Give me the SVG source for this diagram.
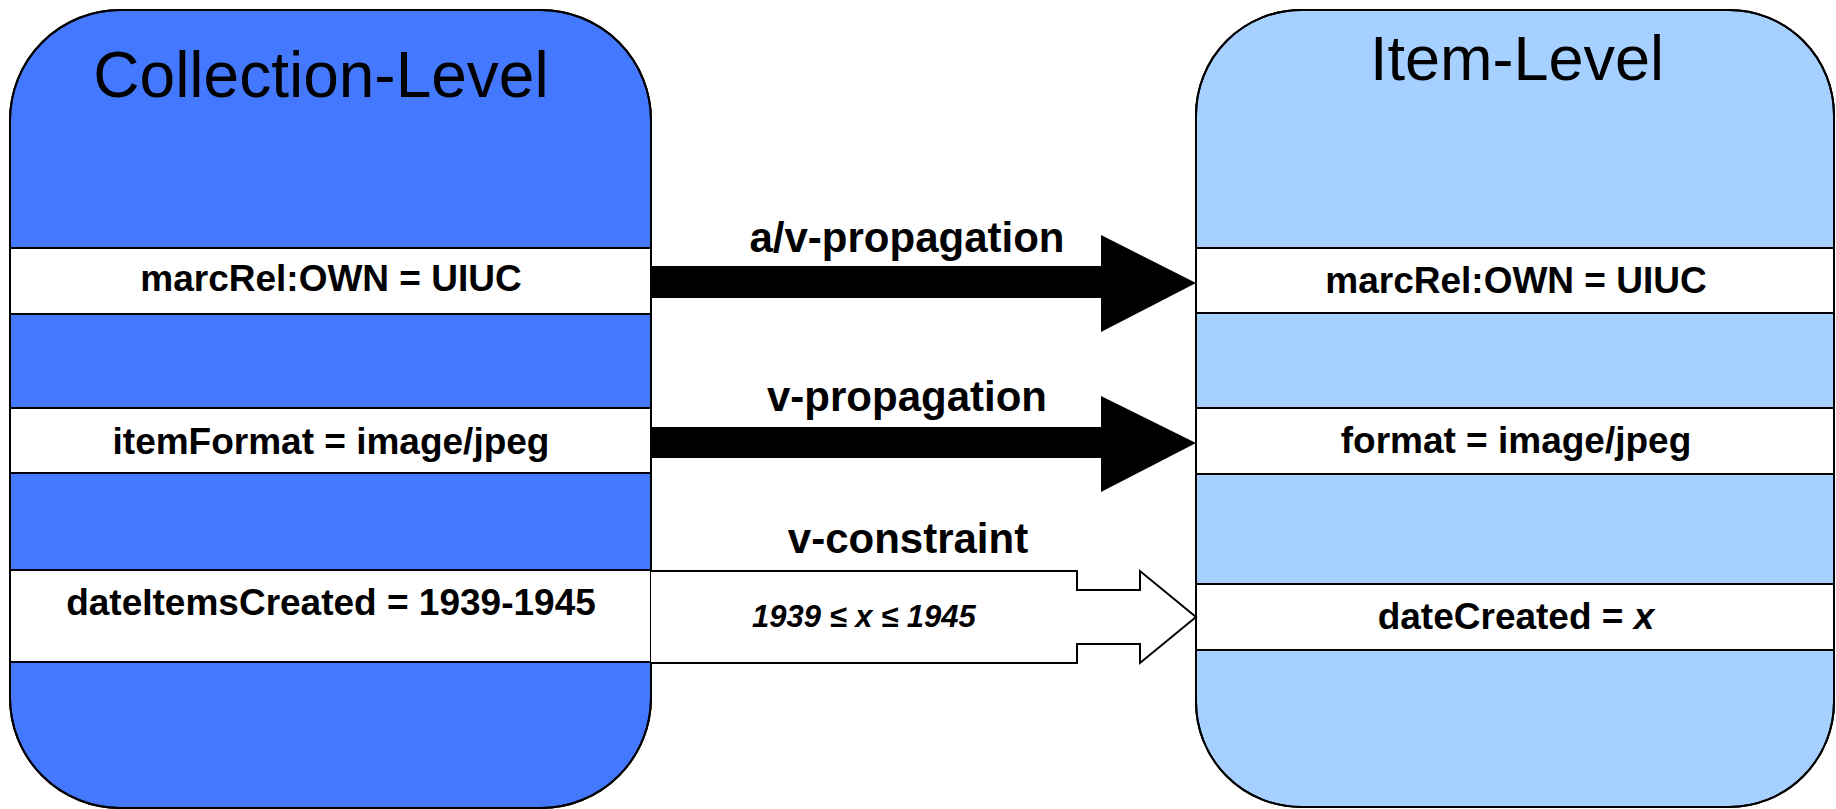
<svg xmlns="http://www.w3.org/2000/svg" width="1836" height="809" viewBox="0 0 1836 809">
<style>
.box{stroke:#000;stroke-width:2}
.left{fill:#4479ff}
.right{fill:#a6d0ff}
.band{fill:#fff;stroke:#000;stroke-width:2}
.outline{fill:none;stroke:#000;stroke-width:2}
.title{font-family:"Liberation Sans",Arial,sans-serif;font-weight:normal;text-anchor:middle;fill:#000}
.attr{font-family:"Liberation Sans",Arial,sans-serif;font-weight:bold;font-size:37px;text-anchor:middle;fill:#000}
.lbl{font-family:"Liberation Sans",Arial,sans-serif;font-weight:bold;font-size:42px;text-anchor:middle;fill:#000}
.cons{font-family:"Liberation Sans",Arial,sans-serif;font-weight:bold;font-style:italic;font-size:31px;fill:#000}
.solid{fill:#000;stroke:none}
.hollow{fill:#fff;stroke:#000;stroke-width:2;stroke-linejoin:miter}
</style>
<rect width="1836" height="809" fill="#fff"/>
<g id="collection-level">
  <path class="box left" d="M10,120 A110,110 0 0 1 120,10 L541,10 A110,110 0 0 1 651,120 L651,698 A110,110 0 0 1 541,808 L120,808 A110,110 0 0 1 10,698 Z"/>
  <rect class="band" x="10" y="248" width="641" height="66"/>
  <rect class="band" x="10" y="408" width="641" height="65"/>
  <rect class="band" x="10" y="570" width="641" height="92"/>
  <path class="outline" d="M10,120 A110,110 0 0 1 120,10 L541,10 A110,110 0 0 1 651,120 L651,698 A110,110 0 0 1 541,808 L120,808 A110,110 0 0 1 10,698 Z"/>
  <text class="title" x="321" y="97" font-size="64">Collection-Level</text>
  <text class="attr" x="331" y="291">marcRel:OWN = UIUC</text>
  <text class="attr" x="331" y="454">itemFormat = image/jpeg</text>
  <text class="attr" x="331" y="615">dateItemsCreated = 1939-1945</text>
</g>
<g id="item-level">
  <path class="box right" d="M1196,115 A105,105 0 0 1 1301,10 L1729,10 A105,105 0 0 1 1834,115 L1834,702 A105,105 0 0 1 1729,807 L1301,807 A105,105 0 0 1 1196,702 Z"/>
  <rect class="band" x="1196" y="248" width="638" height="65"/>
  <rect class="band" x="1196" y="408" width="638" height="66"/>
  <rect class="band" x="1196" y="584" width="638" height="66"/>
  <path class="outline" d="M1196,115 A105,105 0 0 1 1301,10 L1729,10 A105,105 0 0 1 1834,115 L1834,702 A105,105 0 0 1 1729,807 L1301,807 A105,105 0 0 1 1196,702 Z"/>
  <text class="title" x="1517" y="80" font-size="63">Item-Level</text>
  <text class="attr" x="1516" y="293">marcRel:OWN = UIUC</text>
  <text class="attr" x="1516" y="453">format = image/jpeg</text>
  <text class="attr" x="1516" y="629">dateCreated = <tspan font-style="italic">x</tspan></text>
</g>
<g id="connectors">
  <g id="av-propagation">
    <polygon class="solid" points="651,266 1101,266 1101,235 1196,283 1101,332 1101,298 651,298"/>
    <text class="lbl" x="907" y="252">a/v-propagation</text>
  </g>
  <g id="v-propagation">
    <polygon class="solid" points="651,427 1101,427 1101,396 1196,443 1101,492 1101,458 651,458"/>
    <text class="lbl" x="907" y="411">v-propagation</text>
  </g>
  <g id="v-constraint">
    <polyline class="hollow" points="651,571 1077,571 1077,590 1140,590 1140,571 1196,617 1140,663 1140,644 1077,644 1077,663 651,663"/>
    <text class="lbl" x="908" y="553">v-constraint</text>
    <text class="cons" x="752" y="627">1939 ≤ x ≤ 1945</text>
  </g>
</g>
</svg>
